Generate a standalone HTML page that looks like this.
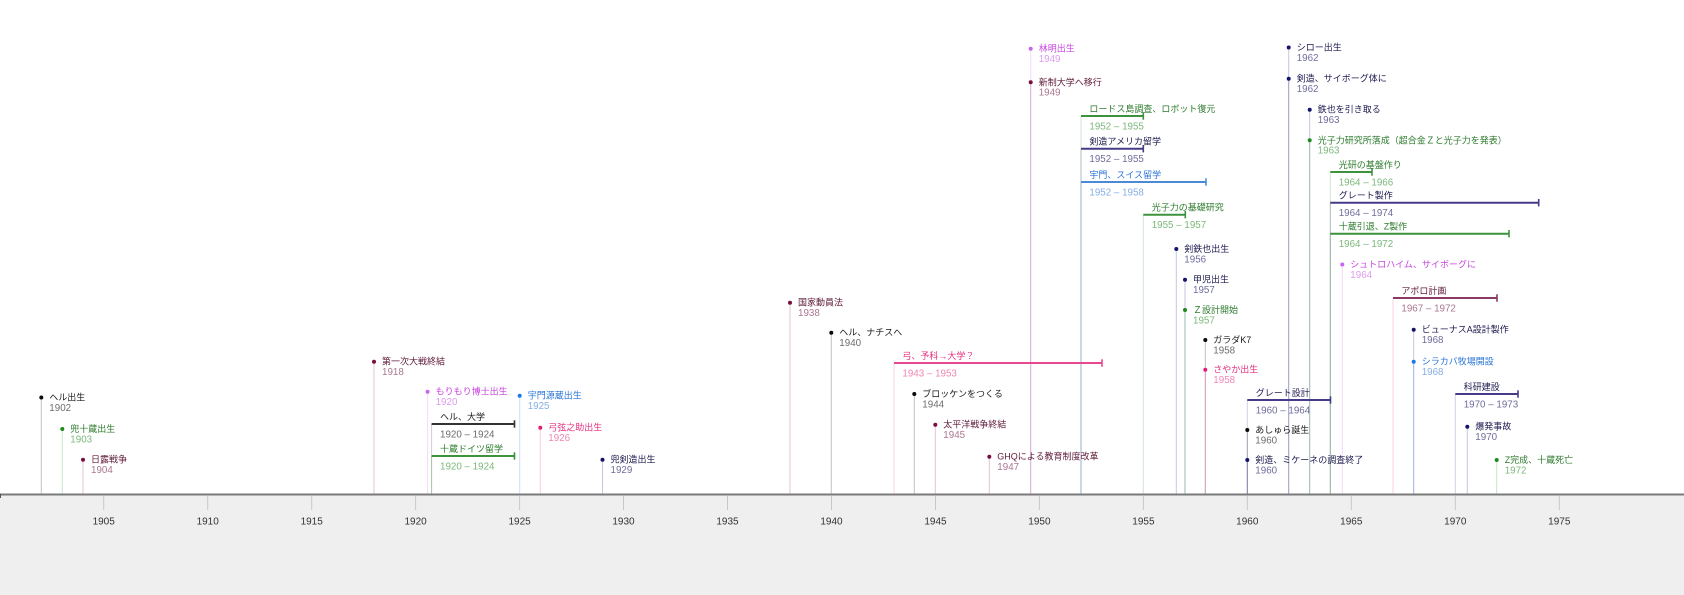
<!DOCTYPE html>
<html><head><meta charset="utf-8">
<style>
html,body{margin:0;padding:0;background:#fff;}
svg{display:block;}
.l{font-family:"Liberation Sans","Noto Sans CJK JP",sans-serif;font-size:9px;}
.y{font-family:"Liberation Sans","Noto Sans CJK JP",sans-serif;font-size:9.8px;}
.t{font-family:"Liberation Sans",sans-serif;font-size:10px;fill:#333;text-anchor:middle;}
</style></head><body>
<svg width="1684" height="595" viewBox="0 0 1684 595" xmlns="http://www.w3.org/2000/svg">
<rect x="0" y="0" width="1684" height="595" fill="#ffffff"/>
<rect x="0" y="495" width="1684" height="100" fill="#efefef"/>

<!-- vertical stems -->
<g stroke-width="1" stroke-opacity="0.24">
<line x1="41.3" y1="397.5" x2="41.3" y2="494" stroke="#000"/>
<line x1="62.3" y1="429" x2="62.3" y2="494" stroke="#1d8a1d"/>
<line x1="83" y1="459.7" x2="83" y2="494" stroke="#780f40"/>
<line x1="374" y1="361.7" x2="374" y2="494" stroke="#780f40"/>
<line x1="427.6" y1="391.7" x2="427.6" y2="494" stroke="#c865ee"/>
<line x1="431.6" y1="424" x2="431.6" y2="494" stroke="#333"/>
<line x1="431.6" y1="456" x2="431.6" y2="494" stroke="#3c933c"/>
<line x1="519.7" y1="395.7" x2="519.7" y2="494" stroke="#1c7ae6"/>
<line x1="540.3" y1="427.7" x2="540.3" y2="494" stroke="#e41e78"/>
<line x1="602.5" y1="459.7" x2="602.5" y2="494" stroke="#16136b"/>
<line x1="790" y1="302.7" x2="790" y2="494" stroke="#780f40"/>
<line x1="831.3" y1="332.7" x2="831.3" y2="494" stroke="#000"/>
<line x1="894" y1="363" x2="894" y2="494" stroke="#e8488f"/>
<line x1="914.3" y1="394" x2="914.3" y2="494" stroke="#000"/>
<line x1="935.3" y1="424.7" x2="935.3" y2="494" stroke="#780f40"/>
<line x1="989.3" y1="456.7" x2="989.3" y2="494" stroke="#780f40"/>
<line x1="1030.7" y1="48.7" x2="1030.7" y2="494" stroke="#c865ee"/>
<line x1="1030.7" y1="82.3" x2="1030.7" y2="494" stroke="#780f40"/>
<line x1="1081" y1="116" x2="1081" y2="494" stroke="#3c933c"/>
<line x1="1081" y1="148.7" x2="1081" y2="494" stroke="#453b88"/>
<line x1="1081" y1="182" x2="1081" y2="494" stroke="#4a8ad6"/>
<line x1="1143.3" y1="214.7" x2="1143.3" y2="494" stroke="#3c933c"/>
<line x1="1176.3" y1="249" x2="1176.3" y2="494" stroke="#16136b"/>
<line x1="1185" y1="279.7" x2="1185" y2="494" stroke="#16136b"/>
<line x1="1185" y1="310" x2="1185" y2="494" stroke="#1d8a1d"/>
<line x1="1205.3" y1="340" x2="1205.3" y2="494" stroke="#000"/>
<line x1="1205.3" y1="369.7" x2="1205.3" y2="494" stroke="#e41e78"/>
<line x1="1247.3" y1="400" x2="1247.3" y2="494" stroke="#453b88"/>
<line x1="1247.3" y1="430" x2="1247.3" y2="494" stroke="#000"/>
<line x1="1247.3" y1="460" x2="1247.3" y2="494" stroke="#16136b"/>
<line x1="1288.7" y1="47.5" x2="1288.7" y2="494" stroke="#16136b"/>
<line x1="1288.7" y1="78.7" x2="1288.7" y2="494" stroke="#16136b"/>
<line x1="1309.7" y1="109.7" x2="1309.7" y2="494" stroke="#16136b"/>
<line x1="1309.7" y1="140.3" x2="1309.7" y2="494" stroke="#1d8a1d"/>
<line x1="1330.3" y1="172" x2="1330.3" y2="494" stroke="#3c933c"/>
<line x1="1330.3" y1="202.7" x2="1330.3" y2="494" stroke="#453b88"/>
<line x1="1330.3" y1="233.7" x2="1330.3" y2="494" stroke="#3c933c"/>
<line x1="1342.3" y1="264.5" x2="1342.3" y2="494" stroke="#c865ee"/>
<line x1="1393" y1="298" x2="1393" y2="494" stroke="#e0407a"/>
<line x1="1413.7" y1="329.7" x2="1413.7" y2="494" stroke="#16136b"/>
<line x1="1413.7" y1="361.7" x2="1413.7" y2="494" stroke="#1c7ae6"/>
<line x1="1455.3" y1="394" x2="1455.3" y2="494" stroke="#453b88"/>
<line x1="1467.3" y1="426.7" x2="1467.3" y2="494" stroke="#16136b"/>
<line x1="1496.7" y1="460" x2="1496.7" y2="494" stroke="#1d8a1d"/>
</g>

<!-- range bars -->
<g stroke-width="2">
<line x1="431.6" y1="424" x2="514.5" y2="424" stroke="#333"/>
<line x1="431.6" y1="456" x2="514.5" y2="456" stroke="#3c933c"/>
<line x1="894" y1="363" x2="1102" y2="363" stroke="#e8488f"/>
<line x1="1081" y1="116" x2="1143.3" y2="116" stroke="#3c933c"/>
<line x1="1081" y1="148.7" x2="1143.3" y2="148.7" stroke="#453b88"/>
<line x1="1081" y1="182" x2="1206" y2="182" stroke="#4a8ad6"/>
<line x1="1143.3" y1="214.7" x2="1185.3" y2="214.7" stroke="#3c933c"/>
<line x1="1247.3" y1="400" x2="1330.5" y2="400" stroke="#453b88"/>
<line x1="1330.3" y1="172" x2="1372" y2="172" stroke="#3c933c"/>
<line x1="1330.3" y1="202.7" x2="1538.7" y2="202.7" stroke="#453b88"/>
<line x1="1330.3" y1="233.7" x2="1509" y2="233.7" stroke="#3c933c"/>
<line x1="1393" y1="298" x2="1497" y2="298" stroke="#8a3a62"/>
<line x1="1455.3" y1="394" x2="1518" y2="394" stroke="#453b88"/>
</g>
<g stroke-width="1.6">
<line x1="514.5" y1="420.3" x2="514.5" y2="427.7" stroke="#333"/>
<line x1="514.5" y1="452.3" x2="514.5" y2="459.7" stroke="#3c933c"/>
<line x1="1102" y1="359.3" x2="1102" y2="366.7" stroke="#e8488f"/>
<line x1="1143.3" y1="112.3" x2="1143.3" y2="119.7" stroke="#3c933c"/>
<line x1="1143.3" y1="145" x2="1143.3" y2="152.4" stroke="#453b88"/>
<line x1="1206" y1="178.3" x2="1206" y2="185.7" stroke="#4a8ad6"/>
<line x1="1185.3" y1="211" x2="1185.3" y2="218.4" stroke="#3c933c"/>
<line x1="1330.5" y1="396.3" x2="1330.5" y2="403.7" stroke="#453b88"/>
<line x1="1372" y1="168.3" x2="1372" y2="175.7" stroke="#3c933c"/>
<line x1="1538.7" y1="199" x2="1538.7" y2="206.4" stroke="#453b88"/>
<line x1="1509" y1="230" x2="1509" y2="237.4" stroke="#3c933c"/>
<line x1="1497" y1="294.3" x2="1497" y2="301.7" stroke="#8a3a62"/>
<line x1="1518" y1="390.3" x2="1518" y2="397.7" stroke="#453b88"/>
</g>

<!-- dots -->
<g>
<circle cx="41.3" cy="397.5" r="2" fill="#0a0a0a"/>
<circle cx="62.3" cy="429" r="2" fill="#1d8a1d"/>
<circle cx="83" cy="459.7" r="2" fill="#780f40"/>
<circle cx="374" cy="361.7" r="2" fill="#780f40"/>
<circle cx="427.6" cy="391.7" r="2" fill="#c865ee"/>
<circle cx="519.7" cy="395.7" r="2" fill="#1c7ae6"/>
<circle cx="540.3" cy="427.7" r="2" fill="#e41e78"/>
<circle cx="602.5" cy="459.7" r="2" fill="#16136b"/>
<circle cx="790" cy="302.7" r="2" fill="#780f40"/>
<circle cx="831.3" cy="332.7" r="2" fill="#0a0a0a"/>
<circle cx="914.3" cy="394" r="2" fill="#0a0a0a"/>
<circle cx="935.3" cy="424.7" r="2" fill="#780f40"/>
<circle cx="989.3" cy="456.7" r="2" fill="#780f40"/>
<circle cx="1030.7" cy="48.7" r="2" fill="#c865ee"/>
<circle cx="1030.7" cy="82.3" r="2" fill="#780f40"/>
<circle cx="1176.3" cy="249" r="2" fill="#16136b"/>
<circle cx="1185" cy="279.7" r="2" fill="#16136b"/>
<circle cx="1185" cy="310" r="2" fill="#1d8a1d"/>
<circle cx="1205.3" cy="340" r="2" fill="#0a0a0a"/>
<circle cx="1205.3" cy="369.7" r="2" fill="#e41e78"/>
<circle cx="1247.3" cy="430" r="2" fill="#0a0a0a"/>
<circle cx="1247.3" cy="460" r="2" fill="#16136b"/>
<circle cx="1288.7" cy="47.5" r="2" fill="#16136b"/>
<circle cx="1288.7" cy="78.7" r="2" fill="#16136b"/>
<circle cx="1309.7" cy="109.7" r="2" fill="#16136b"/>
<circle cx="1309.7" cy="140.3" r="2" fill="#1d8a1d"/>
<circle cx="1342.3" cy="264.5" r="2" fill="#c865ee"/>
<circle cx="1413.7" cy="329.7" r="2" fill="#16136b"/>
<circle cx="1413.7" cy="361.7" r="2" fill="#1c7ae6"/>
<circle cx="1467.3" cy="426.7" r="2" fill="#16136b"/>
<circle cx="1496.7" cy="460" r="2" fill="#1d8a1d"/>
</g>

<!-- event labels -->
<g class="l">
<text class="l" x="49.3" y="400.5" fill="#1a1a1a">ヘル出生</text>
<text class="l" x="70.3" y="432" fill="#2d7a2d">兜十蔵出生</text>
<text class="l" x="91" y="462.7" fill="#5e1a38">日露戦争</text>
<text class="l" x="382" y="364.7" fill="#5e1a38">第一次大戦終結</text>
<text class="l" x="435.6" y="394.7" fill="#c844de">もりもり博士出生</text>
<text class="l" x="527.7" y="398.7" fill="#2a74d6">宇門源蔵出生</text>
<text class="l" x="548.3" y="430.7" fill="#e3307f">弓弦之助出生</text>
<text class="l" x="610.5" y="462.7" fill="#1c1a4e">兜剣造出生</text>
<text class="l" x="798" y="305.7" fill="#5e1a38">国家動員法</text>
<text class="l" x="839.3" y="335.7" fill="#1a1a1a">ヘル、ナチスへ</text>
<text class="l" x="922.3" y="397" fill="#1a1a1a">ブロッケンをつくる</text>
<text class="l" x="943.3" y="427.7" fill="#5e1a38">太平洋戦争終結</text>
<text class="l" x="997.3" y="459.7" fill="#5e1a38">GHQによる教育制度改革</text>
<text class="l" x="1038.7" y="51.7" fill="#c844de">林明出生</text>
<text class="l" x="1038.7" y="85.3" fill="#5e1a38">新制大学へ移行</text>
<text class="l" x="1184.3" y="252" fill="#1c1a4e">剣鉄也出生</text>
<text class="l" x="1193" y="282.7" fill="#1c1a4e">甲児出生</text>
<text class="l" x="1193" y="313" fill="#2d7a2d">Ｚ設計開始</text>
<text class="l" x="1213.3" y="343" fill="#1a1a1a">ガラダK7</text>
<text class="l" x="1213.3" y="372.7" fill="#e3307f">さやか出生</text>
<text class="l" x="1255.3" y="433" fill="#1a1a1a">あしゅら誕生</text>
<text class="l" x="1255.3" y="463" fill="#1c1a4e">剣造、ミケーネの調査終了</text>
<text class="l" x="1296.7" y="50.5" fill="#1c1a4e">シロー出生</text>
<text class="l" x="1296.7" y="81.7" fill="#1c1a4e">剣造、サイボーグ体に</text>
<text class="l" x="1317.7" y="112.7" fill="#1c1a4e">鉄也を引き取る</text>
<text class="l" x="1317.7" y="143.3" fill="#2d7a2d">光子力研究所落成（超合金Ｚと光子力を発表）</text>
<text class="l" x="1350.3" y="267.5" fill="#c844de">シュトロハイム、サイボーグに</text>
<text class="l" x="1421.7" y="332.7" fill="#1c1a4e">ビューナスA設計製作</text>
<text class="l" x="1421.7" y="364.7" fill="#2a74d6">シラカバ牧場開設</text>
<text class="l" x="1475.3" y="429.7" fill="#1c1a4e">爆発事故</text>
<text class="l" x="1504.7" y="463" fill="#2d7a2d">Z完成、十蔵死亡</text>
</g>

<!-- event years -->
<g>
<text class="y" x="49.3" y="410.9" fill="#6d6d6d">1902</text>
<text class="y" x="70.3" y="442.4" fill="#7cb87c">1903</text>
<text class="y" x="91" y="473.1" fill="#aa7690">1904</text>
<text class="y" x="382" y="375.1" fill="#aa7690">1918</text>
<text class="y" x="435.6" y="405.1" fill="#dc9cf0">1920</text>
<text class="y" x="527.7" y="409.1" fill="#86aee6">1925</text>
<text class="y" x="548.3" y="441.1" fill="#ef86b4">1926</text>
<text class="y" x="610.5" y="473.1" fill="#6f6d9c">1929</text>
<text class="y" x="798" y="316.1" fill="#aa7690">1938</text>
<text class="y" x="839.3" y="346.1" fill="#6d6d6d">1940</text>
<text class="y" x="922.3" y="407.4" fill="#6d6d6d">1944</text>
<text class="y" x="943.3" y="438.1" fill="#aa7690">1945</text>
<text class="y" x="997.3" y="470.1" fill="#aa7690">1947</text>
<text class="y" x="1038.7" y="62.1" fill="#dc9cf0">1949</text>
<text class="y" x="1038.7" y="95.7" fill="#aa7690">1949</text>
<text class="y" x="1184.3" y="262.4" fill="#6f6d9c">1956</text>
<text class="y" x="1193" y="293.1" fill="#6f6d9c">1957</text>
<text class="y" x="1193" y="323.4" fill="#7cb87c">1957</text>
<text class="y" x="1213.3" y="353.4" fill="#6d6d6d">1958</text>
<text class="y" x="1213.3" y="383.1" fill="#ef86b4">1958</text>
<text class="y" x="1255.3" y="443.4" fill="#6d6d6d">1960</text>
<text class="y" x="1255.3" y="473.4" fill="#6f6d9c">1960</text>
<text class="y" x="1296.7" y="60.9" fill="#6f6d9c">1962</text>
<text class="y" x="1296.7" y="92.1" fill="#6f6d9c">1962</text>
<text class="y" x="1317.7" y="123.1" fill="#6f6d9c">1963</text>
<text class="y" x="1317.7" y="153.7" fill="#7cb87c">1963</text>
<text class="y" x="1350.3" y="277.9" fill="#dc9cf0">1964</text>
<text class="y" x="1421.7" y="343.1" fill="#6f6d9c">1968</text>
<text class="y" x="1421.7" y="375.1" fill="#86aee6">1968</text>
<text class="y" x="1475.3" y="440.1" fill="#6f6d9c">1970</text>
<text class="y" x="1504.7" y="473.4" fill="#7cb87c">1972</text>
</g>

<!-- range labels -->
<g>
<text class="l" x="440" y="419.8" fill="#1a1a1a">ヘル、大学</text>
<text class="y" x="440" y="437.3" fill="#6d6d6d">1920 – 1924</text>
<text class="l" x="440" y="451.8" fill="#2d7a2d">十蔵ドイツ留学</text>
<text class="y" x="440" y="469.3" fill="#7cb87c">1920 – 1924</text>
<text class="l" x="902.4" y="358.8" fill="#e3307f">弓、予科→大学？</text>
<text class="y" x="902.4" y="376.3" fill="#ef86b4">1943 – 1953</text>
<text class="l" x="1089.4" y="111.8" fill="#2d7a2d">ロードス島調査、ロボット復元</text>
<text class="y" x="1089.4" y="129.3" fill="#7cb87c">1952 – 1955</text>
<text class="l" x="1089.4" y="144.5" fill="#1c1a4e">剣造アメリカ留学</text>
<text class="y" x="1089.4" y="162" fill="#6f6d9c">1952 – 1955</text>
<text class="l" x="1089.4" y="177.8" fill="#2a74d6">宇門、スイス留学</text>
<text class="y" x="1089.4" y="195.3" fill="#86aee6">1952 – 1958</text>
<text class="l" x="1151.7" y="210.5" fill="#2d7a2d">光子力の基礎研究</text>
<text class="y" x="1151.7" y="228" fill="#7cb87c">1955 – 1957</text>
<text class="l" x="1255.7" y="395.8" fill="#1c1a4e">グレート設計</text>
<text class="y" x="1255.7" y="413.3" fill="#6f6d9c">1960 – 1964</text>
<text class="l" x="1338.7" y="167.8" fill="#2d7a2d">光研の基盤作り</text>
<text class="y" x="1338.7" y="185.3" fill="#7cb87c">1964 – 1966</text>
<text class="l" x="1338.7" y="198.5" fill="#1c1a4e">グレート製作</text>
<text class="y" x="1338.7" y="216" fill="#6f6d9c">1964 – 1974</text>
<text class="l" x="1338.7" y="229.5" fill="#2d7a2d">十蔵引退、Z製作</text>
<text class="y" x="1338.7" y="247" fill="#7cb87c">1964 – 1972</text>
<text class="l" x="1401.4" y="293.8" fill="#5e1a38">アポロ計画</text>
<text class="y" x="1401.4" y="311.3" fill="#aa7690">1967 – 1972</text>
<text class="l" x="1463.7" y="389.8" fill="#1c1a4e">科研建設</text>
<text class="y" x="1463.7" y="407.3" fill="#6f6d9c">1970 – 1973</text>
</g>

<!-- axis -->
<line x1="0" y1="494.5" x2="1684" y2="494.5" stroke="#7a7a7a" stroke-width="2"/>
<line x1="0.5" y1="493.5" x2="0.5" y2="498" stroke="#555" stroke-width="1"/>
<g stroke="#c8c8c8" stroke-width="1">
<line x1="103.7" y1="496" x2="103.7" y2="510"/>
<line x1="207.7" y1="496" x2="207.7" y2="510"/>
<line x1="311.7" y1="496" x2="311.7" y2="510"/>
<line x1="415.6" y1="496" x2="415.6" y2="510"/>
<line x1="519.6" y1="496" x2="519.6" y2="510"/>
<line x1="623.5" y1="496" x2="623.5" y2="510"/>
<line x1="727.5" y1="496" x2="727.5" y2="510"/>
<line x1="831.5" y1="496" x2="831.5" y2="510"/>
<line x1="935.5" y1="496" x2="935.5" y2="510"/>
<line x1="1039.4" y1="496" x2="1039.4" y2="510"/>
<line x1="1143.4" y1="496" x2="1143.4" y2="510"/>
<line x1="1247.3" y1="496" x2="1247.3" y2="510"/>
<line x1="1351.3" y1="496" x2="1351.3" y2="510"/>
<line x1="1455.3" y1="496" x2="1455.3" y2="510"/>
<line x1="1559.3" y1="496" x2="1559.3" y2="510"/>
</g>
<g>
<text class="t" x="103.7" y="524.3">1905</text>
<text class="t" x="207.7" y="524.3">1910</text>
<text class="t" x="311.7" y="524.3">1915</text>
<text class="t" x="415.6" y="524.3">1920</text>
<text class="t" x="519.6" y="524.3">1925</text>
<text class="t" x="623.5" y="524.3">1930</text>
<text class="t" x="727.5" y="524.3">1935</text>
<text class="t" x="831.5" y="524.3">1940</text>
<text class="t" x="935.5" y="524.3">1945</text>
<text class="t" x="1039.4" y="524.3">1950</text>
<text class="t" x="1143.4" y="524.3">1955</text>
<text class="t" x="1247.3" y="524.3">1960</text>
<text class="t" x="1351.3" y="524.3">1965</text>
<text class="t" x="1455.3" y="524.3">1970</text>
<text class="t" x="1559.3" y="524.3">1975</text>
</g>
</svg>
</body></html>
